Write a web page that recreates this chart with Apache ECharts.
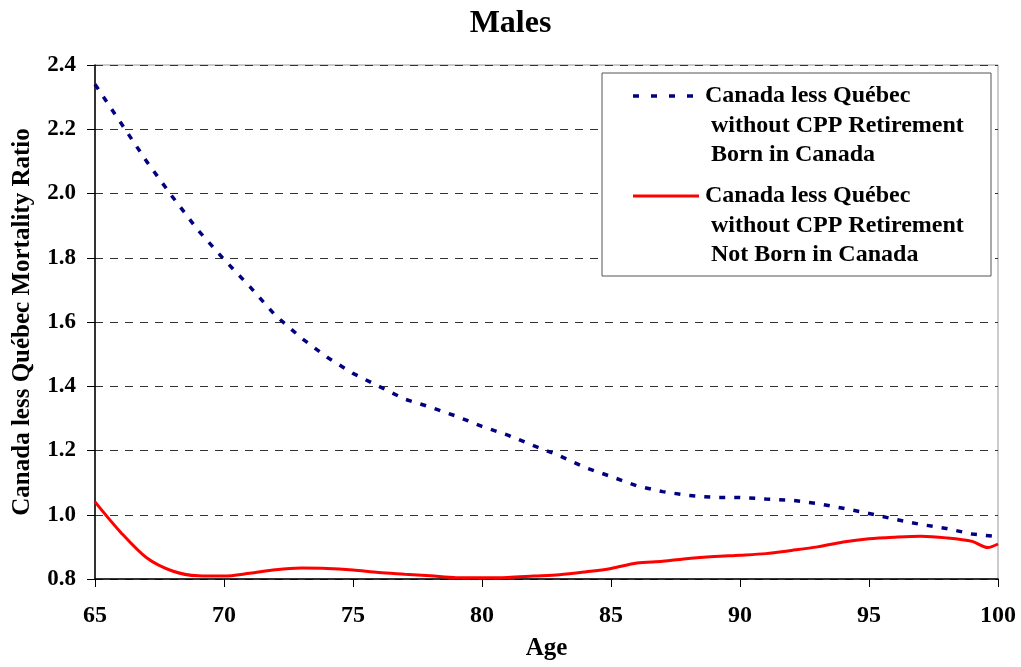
<!DOCTYPE html>
<html>
<head>
<meta charset="utf-8">
<script src="https://cdn.jsdelivr.net/npm/echarts@6/dist/echarts.min.js"></script>
<style>html,body{margin:0;padding:0;background:#fff}#c{width:1021px;height:667px}</style>
</head>
<body>
<div id="c"></div>
<script>
const title = "Males";
const xName = "Age";
const yName = "Canada less Québec Mortality Ratio";
const bornName = ["Canada less Québec", " without CPP Retirement", " Born in Canada"];
const notBornName = ["Canada less Québec", " without CPP Retirement", " Not Born in Canada"];

const bornAges = [65,66,67,68,69,70,71,72,73,74,75,76,77,78,79,80,81,82,83,84,85,86,87,88,89,90,91,92,93,94,95,96,97,98,99,100];
const bornValues = [2.34,2.22,2.10,1.99,1.885,1.795,1.71,1.62,1.55,1.49,1.44,1.40,1.36,1.335,1.307,1.275,1.248,1.215,1.184,1.147,1.119,1.09,1.072,1.06,1.054,1.054,1.049,1.045,1.035,1.02,1.004,0.986,0.97,0.957,0.94,0.932];

const notBornAges = [65,66,67,68,69,70,71,72,73,74,75,76,77,78,79,80,81,82,83,84,85,86,87,88,89,90,91,92,93,94,95,96,97,98,99,99.6,100];
const notBornValues = [1.04,0.945,0.866,0.825,0.81,0.809,0.818,0.829,0.834,0.833,0.828,0.82,0.815,0.81,0.804,0.804,0.805,0.809,0.813,0.822,0.833,0.85,0.855,0.864,0.87,0.874,0.879,0.889,0.9,0.915,0.925,0.93,0.933,0.928,0.917,0.898,0.909];

const serif = "'Liberation Serif','DejaVu Serif',serif";
const chart = echarts.init(document.getElementById('c'));
function legendTexts(lines, y0) {
  return lines.map((t, i) => ({
    type: 'text', x: 705, y: y0 + i * 29.5, z: 11,
    style: { text: t, font: "bold 24px " + serif, fill: '#000', textVerticalAlign: 'middle', verticalAlign: 'middle' }
  }));
}
chart.setOption({
  animation: false,
  title: { text: title, left: 'center', top: 3, textStyle: { fontFamily: serif, fontWeight: 'bold', fontSize: 32, color: '#000' } },
  grid: { left: 95, right: 23, top: 65, bottom: 88, show: true, borderColor: '#999', borderWidth: 1 },
  xAxis: {
    type: 'value', min: 65, max: 100, interval: 5,
    name: xName, nameLocation: 'middle', nameGap: 57,
    nameTextStyle: { fontFamily: serif, fontWeight: 'bold', fontSize: 25, color: '#000' },
    axisLine: { lineStyle: { color: '#000', width: 1.5 } },
    axisTick: { show: true, length: 8, inside: false, lineStyle: { color: '#000' } },
    axisLabel: { fontFamily: serif, fontWeight: 'bold', fontSize: 24, color: '#000', margin: 25 },
    splitLine: { show: false }
  },
  yAxis: {
    type: 'value', min: 0.8, max: 2.4, interval: 0.2,
    name: yName, nameLocation: 'middle', nameGap: 60,
    nameTextStyle: { fontFamily: serif, fontWeight: 'bold', fontSize: 25, color: '#000' },
    axisLine: { show: true, lineStyle: { color: '#000', width: 1.5 } },
    axisTick: { show: true, length: 8, inside: false, lineStyle: { color: '#000' } },
    axisLabel: { fontFamily: serif, fontWeight: 'bold', fontSize: 23, color: '#000', margin: 19, formatter: v => v.toFixed(1) },
    splitLine: { show: true, lineStyle: { color: '#333', type: [8, 7], width: 1 } }
  },
  series: [
    {
      type: 'line', name: bornName.join(''), showSymbol: false,
      data: bornAges.map((a, i) => [a, bornValues[i]]),
      lineStyle: { color: '#000080', width: 3.5, type: [6, 9] }
    },
    {
      type: 'line', name: notBornName.join(''), showSymbol: false, smooth: 0.3,
      data: notBornAges.map((a, i) => [a, notBornValues[i]]),
      lineStyle: { color: '#ff0000', width: 3 }
    }
  ],
  graphic: [
    { type: 'rect', shape: { x: 602, y: 73, width: 389, height: 203 }, style: { fill: '#fff', stroke: '#555', lineWidth: 1 }, z: 10 },
    { type: 'line', shape: { x1: 633, y1: 96, x2: 697, y2: 96 }, style: { stroke: '#000080', lineWidth: 3.5, lineDash: [6, 12] }, z: 11 },
    { type: 'line', shape: { x1: 633, y1: 196, x2: 699, y2: 196 }, style: { stroke: '#ff0000', lineWidth: 3 }, z: 11 },
    ...legendTexts(bornName, 96),
    ...legendTexts(notBornName, 196)
  ]
});
</script>
</body>
</html>
